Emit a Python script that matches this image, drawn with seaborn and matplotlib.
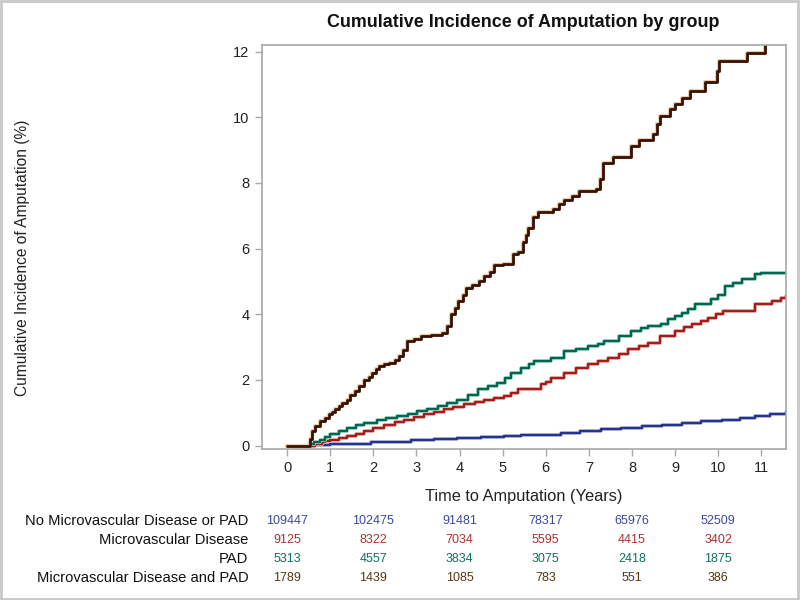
import numpy as np
import pandas as pd
import matplotlib
matplotlib.use("Agg")
import matplotlib.pyplot as plt
import matplotlib.patheffects as pe
from matplotlib.patches import Rectangle
import seaborn as sns

# Step points (years, %)
groups = ['No Microvascular Disease or PAD', 'Microvascular Disease', 'PAD',
          'Microvascular Disease and PAD']

none_t = [0, 0.6, 1.0, 1.94, 2.87, 3.4, 3.95, 4.5, 5.04, 5.43, 6.36, 6.8, 7.29, 7.75,
          8.22, 8.7, 9.15, 9.6, 10.08, 10.5, 10.85, 11.2, 11.58]
none_v = [0, 0.02, 0.05, 0.1, 0.16, 0.2, 0.23, 0.27, 0.3, 0.31, 0.39, 0.44, 0.49, 0.54,
          0.59, 0.64, 0.69, 0.74, 0.79, 0.84, 0.89, 0.95, 1.02]

mvd_t = [0, 0.66, 0.8, 0.89, 1.0, 1.2, 1.4, 1.6, 1.78, 2.0, 2.25, 2.5, 2.71, 2.95, 3.18,
         3.4, 3.64, 3.85, 4.1, 4.35, 4.57, 4.8, 5.04, 5.2, 5.35, 5.89, 6.0, 6.12, 6.43,
         6.7, 6.98, 7.2, 7.44, 7.7, 7.91, 8.15, 8.37, 8.64, 8.99, 9.2, 9.38, 9.6, 9.77,
         9.95, 10.12, 10.85, 11.24, 11.45, 11.58]
mvd_v = [0, 0.05, 0.1, 0.13, 0.18, 0.22, 0.28, 0.36, 0.44, 0.54, 0.64, 0.72, 0.79, 0.87,
         0.95, 1.02, 1.1, 1.18, 1.25, 1.32, 1.4, 1.45, 1.5, 1.6, 1.71, 1.86, 1.95, 2.06,
         2.22, 2.35, 2.47, 2.57, 2.67, 2.8, 2.93, 3.03, 3.13, 3.33, 3.48, 3.6, 3.69, 3.8,
         3.89, 4.0, 4.09, 4.3, 4.4, 4.5, 4.55]

pad_t = [0, 0.5, 0.62, 0.77, 0.88, 1.0, 1.2, 1.4, 1.6, 1.78, 2.09, 2.3, 2.56, 2.8, 3.02,
         3.25, 3.49, 3.7, 3.95, 4.2, 4.42, 4.65, 4.88, 5.05, 5.19, 5.43, 5.6, 5.73, 6.12,
         6.43, 6.7, 6.98, 7.2, 7.36, 7.7, 7.98, 8.2, 8.37, 8.68, 8.84, 9.0, 9.15, 9.3,
         9.46, 9.84, 10.0, 10.15, 10.35, 10.54, 10.85, 11.0, 11.58]
pad_v = [0, 0.05, 0.1, 0.18, 0.26, 0.34, 0.44, 0.54, 0.62, 0.69, 0.79, 0.84, 0.89, 0.97,
         1.05, 1.12, 1.2, 1.3, 1.4, 1.55, 1.71, 1.8, 1.91, 2.05, 2.22, 2.37, 2.47, 2.57,
         2.67, 2.88, 2.95, 3.03, 3.1, 3.18, 3.35, 3.49, 3.57, 3.64, 3.69, 3.84, 3.95,
         4.05, 4.15, 4.3, 4.45, 4.6, 4.86, 4.95, 5.06, 5.21, 5.27, 5.27]

both_t = [0, 0.54, 0.58, 0.66, 0.77, 0.87, 0.97, 1.05, 1.12, 1.2, 1.28, 1.38, 1.47, 1.57,
          1.67, 1.78, 1.9, 1.98, 2.06, 2.13, 2.25, 2.36, 2.5, 2.6, 2.7, 2.79, 2.95, 3.1,
          3.35, 3.6, 3.7, 3.8, 3.9, 3.97, 4.07, 4.15, 4.3, 4.45, 4.57, 4.7, 4.8, 5.0,
          5.23, 5.35, 5.47, 5.53, 5.59, 5.7, 5.81, 6.16, 6.3, 6.43, 6.6, 6.77, 7.17,
          7.25, 7.33, 7.56, 7.98, 8.17, 8.49, 8.57, 8.64, 8.87, 9.0, 9.15, 9.34, 9.69,
          9.98, 10.02, 10.66, 11.08]
both_v = [0, 0.2, 0.44, 0.6, 0.74, 0.85, 0.95, 1.02, 1.1, 1.2, 1.3, 1.4, 1.55, 1.65,
          1.81, 2.01, 2.1, 2.22, 2.32, 2.42, 2.47, 2.52, 2.62, 2.72, 2.9, 3.18, 3.25, 3.33,
          3.36, 3.43, 3.65, 4.0, 4.2, 4.39, 4.6, 4.79, 4.9, 5.01, 5.16, 5.3, 5.49, 5.52,
          5.82, 5.9, 6.19, 6.4, 6.64, 6.95, 7.11, 7.2, 7.35, 7.48, 7.6, 7.75, 7.8, 8.11,
          8.62, 8.8, 9.12, 9.31, 9.48, 9.8, 10.04, 10.24, 10.4, 10.6, 10.8, 11.06, 11.4,
          11.72, 11.97, 12.4]

# Number at risk table
risk_times = [0, 2, 4, 6, 8, 10]
risk_none = [109447, 102475, 91481, 78317, 65976, 52509]
risk_mvd = [9125, 8322, 7034, 5595, 4415, 3402]
risk_pad = [5313, 4557, 3834, 3075, 2418, 1875]
risk_both = [1789, 1439, 1085, 783, 551, 386]

line_colors = ['#27348b', '#a31d1a', '#00664f', '#3a1000']
halo_colors = ['#c0c6e4', '#ecc0b8', '#b0dccc', '#e6d0b0']
risk_colors = ['#3a48a0', '#b03030', '#107060', '#5a3510']

frames = []
for g, t, v in zip(groups, [none_t, mvd_t, pad_t, both_t], [none_v, mvd_v, pad_v, both_v]):
    frames.append(pd.DataFrame({'group': g, 'time': t, 'cif': v}))
df = pd.concat(frames, ignore_index=True)

sns.set_style('white')
plt.rcParams['font.family'] = ['Liberation Sans', 'DejaVu Sans']

fig = plt.figure(figsize=(8, 6), dpi=100)
ax = fig.add_axes([0.3275, 0.252, 0.655, 0.673])

sns.lineplot(data=df, x='time', y='cif', hue='group', hue_order=groups,
             palette=line_colors, estimator=None, sort=False,
             drawstyle='steps-post', legend=False, ax=ax, linewidth=1.7)

for i, line in enumerate(ax.get_lines()):
    lw = 2.0 if i == 3 else 1.7
    line.set_linewidth(lw)
    line.set_path_effects([pe.Stroke(linewidth=lw + 1.0, foreground=halo_colors[i]),
                           pe.Normal()])

ax.set_xlim(-0.58, 11.57)
ax.set_ylim(-0.1, 12.2)
ax.set_xticks(range(0, 12))
ax.set_yticks(range(0, 13, 2))
ax.set_xlabel('')
ax.set_ylabel('')
for s in ax.spines.values():
    s.set_color('#a8a8a8')
    s.set_linewidth(1.2)
ax.tick_params(axis='both', which='major', direction='out', length=5, width=1,
               color='#a8a8a8', labelsize=10.5, labelcolor='#222222', pad=4)
ax.tick_params(left=True, bottom=True)

fig.text(0.654, 0.963, 'Cumulative Incidence of Amputation by group',
         ha='center', va='center', fontsize=12.9, fontweight='bold', color='#111111')
fig.text(0.654, 0.172, 'Time to Amputation (Years)', ha='center', va='center',
         fontsize=11.8, color='#222222')
fig.text(0.028, 0.57, 'Cumulative Incidence of Amputation (%)', ha='center',
         va='center', rotation=90, fontsize=11.2, color='#222222')

trans = ax.get_xaxis_transform()
row_y = [-0.18, -0.227, -0.274, -0.321]
for g, counts, c, y in zip(groups, [risk_none, risk_mvd, risk_pad, risk_both],
                           risk_colors, row_y):
    ax.text(-0.026, y, g, transform=ax.transAxes, ha='right', va='center',
            fontsize=10.6, color='#111111', clip_on=False)
    for tt, n in zip(risk_times, counts):
        ax.text(tt, y, str(n), transform=trans, ha='center', va='center',
                fontsize=9, color=c, clip_on=False)

fig.patches.append(Rectangle((0.001, 0.002), 0.997, 0.996, transform=fig.transFigure,
                             fill=False, edgecolor='#c8c8c8', linewidth=2))

fig.savefig('out.png', dpi=100)
